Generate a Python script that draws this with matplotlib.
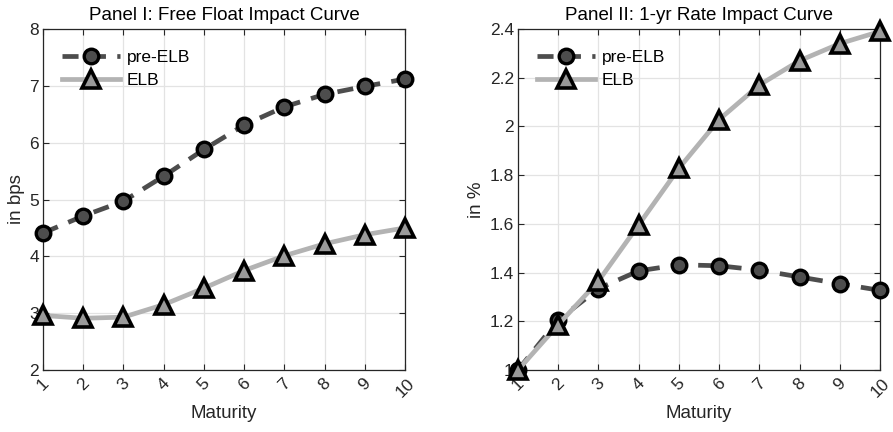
import matplotlib
matplotlib.use("Agg")
import matplotlib.pyplot as plt

plt.rcParams['font.family'] = ['Liberation Sans', 'DejaVu Sans']

maturity = [1, 2, 3, 4, 5, 6, 7, 8, 9, 10]

# Panel I: free float impact (bps)
ff_pre_elb = [4.41, 4.71, 4.97, 5.41, 5.88, 6.31, 6.63, 6.85, 6.99, 7.12]
ff_elb = [2.96, 2.91, 2.93, 3.15, 3.44, 3.75, 4.01, 4.22, 4.38, 4.50]

# Panel II: 1-yr rate impact (%)
r1_pre_elb = [1.00, 1.205, 1.334, 1.407, 1.432, 1.428, 1.41, 1.382, 1.354, 1.327]
r1_elb = [1.00, 1.186, 1.365, 1.596, 1.828, 2.028, 2.17, 2.27, 2.34, 2.39]

ff_yticks = [2, 3, 4, 5, 6, 7, 8]
r1_yticks = [1.0, 1.2, 1.4, 1.6, 1.8, 2.0, 2.2, 2.4]
r1_yticklabels = ['1', '1.2', '1.4', '1.6', '1.8', '2', '2.2', '2.4']

fig = plt.figure(figsize=(8.93, 4.32), dpi=100)
W, H = 893, 432
ax1 = fig.add_axes([43 / W, 1 - 370 / H, 362 / W, 341 / H])
ax2 = fig.add_axes([518 / W, 1 - 370 / H, 362 / W, 341 / H])

axis_col = '#262626'
pre_col = '#4d4d4d'
elb_col = '#b3b3b3'


def draw(ax, pre, elb, yticks, ylabels, ylabel, title):
    ax.plot(maturity, pre, color=pre_col, lw=3.4, ls=(0, (3.4, 2.4)),
            marker='o', ms=10.5, mfc=pre_col, mec='black', mew=2.4,
            label='pre-ELB', zorder=3, clip_on=False)
    ax.plot(maturity, elb, color=elb_col, lw=3.4, ls='-',
            marker='^', ms=12.5, mfc='#9a9a9a', mew=2.6, mec='black',
            label='ELB', zorder=4, clip_on=False)
    ax.set_xlim(1, 10)
    ax.set_ylim(yticks[0], yticks[-1])
    ax.set_xticks(maturity)
    ax.set_xticklabels([str(m) for m in maturity], rotation=45,
                       ha='center', va='top')
    ax.set_yticks(yticks)
    ax.set_yticklabels(ylabels)
    ax.grid(True, color='#e3e3e3', lw=0.9)
    ax.set_axisbelow(True)
    for sp in ax.spines.values():
        sp.set_color(axis_col)
        sp.set_linewidth(0.9)
    ax.tick_params(direction='in', length=4, width=0.8, colors=axis_col,
                   labelsize=12.5, top=True, right=True, pad=3)
    ax.tick_params(axis='x', pad=4)
    ax.set_xlabel('Maturity', fontsize=13.5, color=axis_col, labelpad=4)
    ax.set_ylabel(ylabel, fontsize=13.5, color=axis_col, labelpad=3)
    ax.text(0.5, 1 + 14 / 341, title, transform=ax.transAxes,
            ha='center', va='center', fontsize=13.5, color='black')
    leg = ax.legend(loc='upper left', frameon=False, fontsize=12.5,
                    handlelength=3.3, handletextpad=0.4, labelspacing=0.45,
                    borderaxespad=0.3, bbox_to_anchor=(0.02, 0.975))
    for t in leg.get_texts():
        t.set_color('black')


draw(ax1, ff_pre_elb, ff_elb, ff_yticks, [str(v) for v in ff_yticks],
     'in bps', 'Panel I: Free Float Impact Curve')
draw(ax2, r1_pre_elb, r1_elb, r1_yticks, r1_yticklabels,
     'in %', 'Panel II: 1-yr Rate Impact Curve')

fig.savefig('out.png', dpi=100)
